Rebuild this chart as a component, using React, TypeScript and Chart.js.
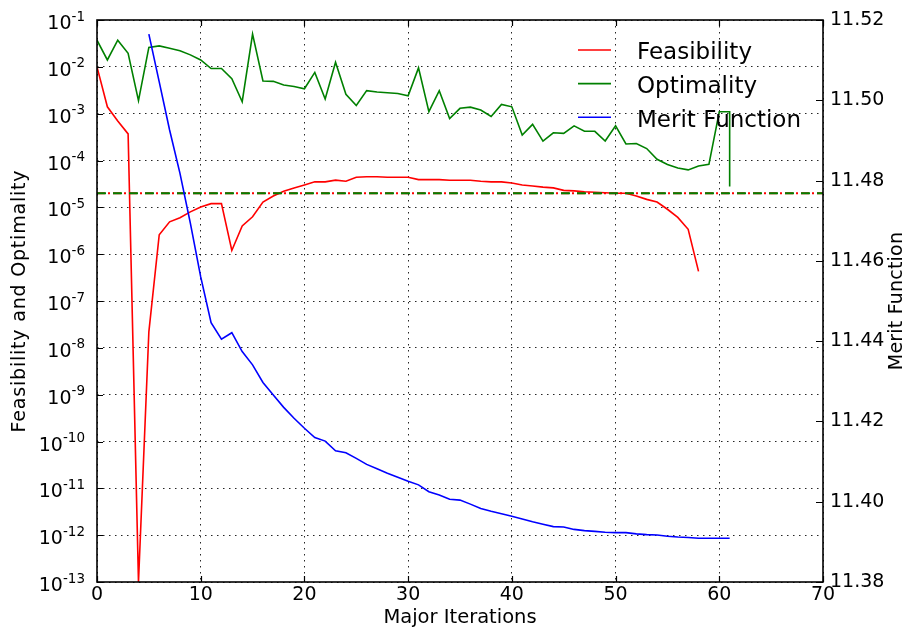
import React, { useEffect, useRef } from "react";
import { Chart, registerables } from "chart.js";

Chart.register(...registerables);

const FONT = "'DejaVu Sans', 'Bitstream Vera Sans', sans-serif";

// ---- data ----
const feasIters = [
  0, 1, 2, 3, 4, 5, 6, 7, 8, 9, 10, 11, 12, 13, 14, 15, 16, 17, 18, 19, 20, 21, 22, 23, 24, 25, 26, 27, 28, 29,
  30, 31, 32, 33, 34, 35, 36, 37, 38, 39, 40, 41, 42, 43, 44, 45, 46, 47, 48, 49, 50, 51, 52, 53, 54, 55, 56, 57, 58,
];
const feasibility = [
  1e-2, 1.4e-3, 7e-4, 3.7e-4, 1e-13, 2.2e-8, 2.6e-6, 4.9e-6, 6.0e-6, 8.0e-6, 1.02e-5, 1.2e-5, 1.2e-5, 1.2e-6, 4e-6,
  6.3e-6, 1.3e-5, 1.74e-5, 2.2e-5, 2.6e-5, 3.0e-5, 3.5e-5, 3.5e-5, 3.8e-5, 3.6e-5, 4.4e-5, 4.5e-5, 4.5e-5, 4.4e-5,
  4.4e-5, 4.4e-5, 3.9e-5, 3.9e-5, 3.9e-5, 3.8e-5, 3.8e-5, 3.8e-5, 3.6e-5, 3.5e-5, 3.5e-5, 3.3e-5, 3.0e-5, 2.86e-5,
  2.7e-5, 2.6e-5, 2.3e-5, 2.25e-5, 2.15e-5, 2.1e-5, 2.05e-5, 2.0e-5, 2.0e-5, 1.75e-5, 1.48e-5, 1.3e-5, 9.1e-6,
  6.1e-6, 3.4e-6, 4.3e-7,
];

const optIters = [
  0, 1, 2, 3, 4, 5, 6, 7, 8, 9, 10, 11, 12, 13, 14, 15, 16, 17, 18, 19, 20, 21, 22, 23, 24, 25, 26, 27, 28, 29,
  30, 31, 32, 33, 34, 35, 36, 37, 38, 39, 40, 41, 42, 43, 44, 45, 46, 47, 48, 49, 50, 51, 52, 53, 54, 55, 56, 57, 58,
  59, 60, 61, 61,
];
const optimality = [
  3.7e-2, 1.4e-2, 3.7e-2, 1.95e-2, 1.9e-3, 2.6e-2, 2.8e-2, 2.5e-2, 2.2e-2, 1.8e-2, 1.4e-2, 9.2e-3, 9.2e-3, 5.6e-3,
  1.8e-3, 5e-2, 5e-3, 4.9e-3, 4.1e-3, 3.8e-3, 3.4e-3, 7.6e-3, 2.05e-3, 1.25e-2, 2.6e-3, 1.5e-3, 3.1e-3, 2.9e-3,
  2.8e-3, 2.7e-3, 2.4e-3, 9.5e-3, 1.1e-3, 3.1e-3, 7.9e-4, 1.3e-3, 1.38e-3, 1.2e-3, 8.7e-4, 1.58e-3, 1.4e-3, 3.5e-4,
  5.9e-4, 2.6e-4, 3.9e-4, 3.8e-4, 5.5e-4, 4.2e-4, 4.2e-4, 2.6e-4, 5.5e-4, 2.25e-4, 2.3e-4, 1.8e-4, 1.06e-4, 8.2e-5,
  6.9e-5, 6.3e-5, 7.6e-5, 8.3e-5, 1.1e-3, 1.1e-3, 2.8e-5,
];

const meritIters = [
  5, 6, 7, 8, 9, 10, 11, 12, 13, 14, 15, 16, 17, 18, 19, 20, 21, 22, 23, 24, 25, 26, 27, 28, 29, 30, 31, 32, 33, 34,
  35, 36, 37, 38, 39, 40, 41, 42, 43, 44, 45, 46, 47, 48, 49, 50, 51, 52, 53, 54, 55, 56, 57, 58, 59, 60, 61,
];
const meritFunction = [
  11.5165, 11.5046, 11.4926, 11.4818, 11.4694, 11.456, 11.4446, 11.4405, 11.4421, 11.4374, 11.4341, 11.4297,
  11.4266, 11.4235, 11.4208, 11.4183, 11.416, 11.4151, 11.4127, 11.4122, 11.4108, 11.4093, 11.4082, 11.4071,
  11.4061, 11.4051, 11.4042, 11.4025, 11.4017, 11.4006, 11.4004, 11.3994, 11.3983, 11.3976, 11.397, 11.3964,
  11.3957, 11.395, 11.3944, 11.3938, 11.3937, 11.3931, 11.3928, 11.3926, 11.3924, 11.3923, 11.3923, 11.392,
  11.3918, 11.3917, 11.3914, 11.3912, 11.3911, 11.3909, 11.3909, 11.3909, 11.3909,
];

const tolIters = [0, 70];
const feasTolerance = 2e-5;
const optTolerance = 2e-5;

const xTicks = [0, 10, 20, 30, 40, 50, 60, 70];
const leftExponents = [-1, -2, -3, -4, -5, -6, -7, -8, -9, -10, -11, -12, -13];
const rightTicks = [11.38, 11.4, 11.42, 11.44, 11.46, 11.48, 11.5, 11.52];

const legendItems = ["Feasibility", "Optimality", "Merit Function"];
const leftTitle = "Feasibility and Optimality";
const rightTitle = "Merit Function";

export default function App() {
  const ref = useRef<HTMLCanvasElement | null>(null);

  useEffect(() => {
    if (!ref.current) return;

    const overlay = {
      id: "overlay",
      afterDraw(chart: any) {
        const { ctx, chartArea: a, scales } = chart;
        const xs = scales.x;
        const ys = scales.y;
        const y2 = scales.y2;
        ctx.save();
        // inward tick marks
        ctx.strokeStyle = "#000";
        ctx.lineWidth = 1.2;
        ctx.beginPath();
        xTicks.forEach((v) => {
          const px = Math.round(xs.getPixelForValue(v)) + 0.5;
          ctx.moveTo(px, a.bottom);
          ctx.lineTo(px, a.bottom - 6);
          ctx.moveTo(px, a.top);
          ctx.lineTo(px, a.top + 6);
        });
        leftExponents.forEach((e) => {
          const py = Math.round(ys.getPixelForValue(Math.pow(10, e))) + 0.5;
          ctx.moveTo(a.left, py);
          ctx.lineTo(a.left + 6, py);
        });
        rightTicks.forEach((v) => {
          const py = Math.round(y2.getPixelForValue(v)) + 0.5;
          ctx.moveTo(a.right, py);
          ctx.lineTo(a.right - 7, py);
        });
        ctx.stroke();

        // frame
        ctx.lineWidth = 1.6;
        ctx.strokeRect(a.left, a.top, a.right - a.left, a.bottom - a.top);

        // left tick labels with exponents
        ctx.fillStyle = "#000";
        ctx.textBaseline = "alphabetic";
        ctx.textAlign = "right";
        const rightEdge = a.left - 12;
        leftExponents.forEach((e) => {
          const py = ys.getPixelForValue(Math.pow(10, e));
          const expStr = String(e);
          ctx.font = `13.5px ${FONT}`;
          const w = ctx.measureText(expStr).width;
          ctx.fillText(expStr, rightEdge, py + 0.5);
          ctx.font = `19px ${FONT}`;
          ctx.fillText("10", rightEdge - w, py + 9);
        });

        const midY = (a.top + a.bottom) / 2;
        // left axis title (reads bottom to top)
        ctx.save();
        ctx.translate(20, midY);
        ctx.rotate(-Math.PI / 2);
        ctx.textAlign = "center";
        ctx.textBaseline = "middle";
        ctx.font = `19px ${FONT}`;
        try {
          (ctx as any).letterSpacing = "0.8px";
        } catch (err) {}
        ctx.fillText(leftTitle, 0, 0);
        ctx.restore();

        // right axis title (reads bottom to top)
        ctx.save();
        ctx.translate(897, midY);
        ctx.rotate(-Math.PI / 2);
        ctx.textAlign = "center";
        ctx.textBaseline = "middle";
        ctx.font = `19px ${FONT}`;
        try {
          (ctx as any).letterSpacing = "0.2px";
        } catch (err) {}
        ctx.fillText(rightTitle, 0, 0);
        ctx.restore();

        // legend (no frame)
        const ds = chart.data.datasets;
        const mains = legendItems.map((lbl) => ds.find((d: any) => d.label === lbl));
        ctx.textAlign = "left";
        ctx.textBaseline = "alphabetic";
        ctx.font = `23px ${FONT}`;
        mains.forEach((d: any, i: number) => {
          const ly = 50 + i * 33.6;
          ctx.strokeStyle = d.borderColor;
          ctx.lineWidth = 1.6;
          ctx.beginPath();
          ctx.moveTo(578, ly);
          ctx.lineTo(611, ly);
          ctx.stroke();
          ctx.fillStyle = "#000";
          ctx.fillText(d.label, 637, ly + 9.3);
        });
        ctx.restore();
      },
    };

    const gridCommon = {
      color: "rgba(0,0,0,0.85)",
      lineWidth: 1,
      drawTicks: false,
    };

    const chart = new Chart(ref.current, {
      type: "line",
      data: {
        datasets: [
          {
            label: "Merit Function",
            data: meritIters.map((x, i) => ({ x, y: meritFunction[i] })),
            borderColor: "#0000ff",
            backgroundColor: "#0000ff",
            borderWidth: 1.6,
            pointRadius: 0,
            tension: 0,
            yAxisID: "y2",
            order: 1,
          },
          {
            label: "Optimality tolerance",
            data: tolIters.map((x) => ({ x, y: optTolerance })),
            borderColor: "#008000",
            borderWidth: 1.8,
            borderDash: [9, 7],
            pointRadius: 0,
            yAxisID: "y",
            order: 2,
          },
          {
            label: "Feasibility tolerance",
            data: tolIters.map((x) => ({ x, y: feasTolerance })),
            borderColor: "#ff0000",
            borderWidth: 1.8,
            borderDash: [8, 3, 2, 3],
            pointRadius: 0,
            yAxisID: "y",
            order: 3,
          },
          {
            label: "Optimality",
            data: optIters.map((x, i) => ({ x, y: optimality[i] })),
            borderColor: "#008000",
            backgroundColor: "#008000",
            borderWidth: 1.6,
            pointRadius: 0,
            tension: 0,
            yAxisID: "y",
            order: 4,
          },
          {
            label: "Feasibility",
            data: feasIters.map((x, i) => ({ x, y: feasibility[i] })),
            borderColor: "#ff0000",
            backgroundColor: "#ff0000",
            borderWidth: 1.6,
            pointRadius: 0,
            tension: 0,
            yAxisID: "y",
            order: 5,
          },
        ],
      },
      options: {
        responsive: false,
        animation: false,
        devicePixelRatio: 1,
        layout: { padding: { top: 20, left: 0, right: 0, bottom: 0 } },
        plugins: { legend: { display: false }, tooltip: { enabled: false } },
        elements: { line: { fill: false } },
        scales: {
          x: {
            type: "linear",
            min: 0,
            max: 70,
            afterBuildTicks: (s: any) => {
              s.ticks = xTicks.map((v) => ({ value: v }));
            },
            ticks: { color: "#000", font: { family: FONT, size: 19 }, padding: 2, maxRotation: 0 },
            grid: gridCommon,
            border: { display: false, dash: [1.5, 4.5] },
            title: {
              display: true,
              text: "Major Iterations",
              color: "#000",
              font: { family: FONT, size: 19.5 },
              padding: { top: 0, bottom: 0 },
            },
            afterFit: (s: any) => {
              s.height = 48;
            },
          },
          y: {
            type: "logarithmic",
            position: "left",
            min: 1e-13,
            max: 1e-1,
            afterBuildTicks: (s: any) => {
              s.ticks = leftExponents.map((e) => ({ value: Math.pow(10, e) }));
            },
            ticks: { display: false },
            grid: gridCommon,
            border: { display: false, dash: [1.5, 4.5] },
            afterFit: (s: any) => {
              s.width = 97;
            },
          },
          y2: {
            type: "linear",
            position: "right",
            min: 11.38,
            max: 11.52,
            afterBuildTicks: (s: any) => {
              s.ticks = rightTicks.map((v) => ({ value: v }));
            },
            ticks: {
              color: "#000",
              font: { family: FONT, size: 19 },
              padding: 7,
              callback: (v: any) => Number(v).toFixed(2),
            },
            grid: { display: false, drawTicks: false },
            border: { display: false },
            afterFit: (s: any) => {
              s.width = 82;
            },
          },
        },
      },
      plugins: [overlay],
    } as any);

    return () => chart.destroy();
  }, []);

  return (
    <div style={{ position: "absolute", left: 0, top: 0, width: 905, height: 630, background: "#fff" }}>
      <canvas ref={ref} width={905} height={630} style={{ display: "block" }} />
    </div>
  );
}
